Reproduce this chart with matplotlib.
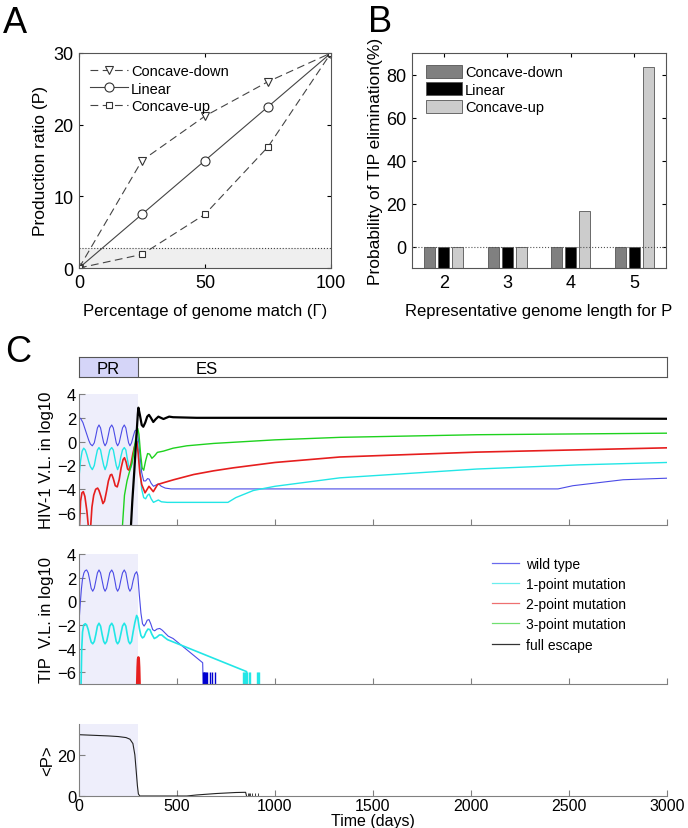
import numpy as np
import matplotlib
matplotlib.use('Agg')
import matplotlib.pyplot as plt

plt.rcParams['font.family'] = ['Liberation Sans', 'DejaVu Sans']
plt.rcParams['axes.linewidth'] = 0.8

# ---- panel A data ----
gamma = [0, 25, 50, 75, 100]
p_down = [0, 15, 21.2, 26, 30]
p_lin = [0, 7.5, 15, 22.5, 30]
p_up = [0, 1.9, 7.5, 16.9, 30]
p_threshold = 2.75

# ---- panel B data ----
genome_len = [2, 3, 4, 5]
elim_down = [0, 0, 0, 0]
elim_lin = [0, 0, 0, 0]
elim_up = [0, 0, 16.7, 83.3]

# ---- panel C data (days, log10 values) ----
pr_end = 300
t_max = 3000

hiv_wt_t = [0, 10, 20, 30, 40, 50, 58, 68, 78, 86, 94, 102, 110, 118, 126, 133, 141, 149, 157, 167,
            175, 183, 190, 197, 205, 213, 222, 231, 239, 246, 253, 260, 268, 276, 285, 294, 300, 310,
            320, 330, 340, 350, 358, 368, 380, 392, 405, 420, 440, 470, 2444, 2520, 2776, 3000]
hiv_wt_v = [2.05, 1.9, 1.6, 1.1, 0.6, 0.1, -0.2, -0.35, -0.1, 0.5, 1.15, 1.4, 1.15, 0.5, -0.1, -0.35,
            -0.1, 0.5, 1.15, 1.4, 1.15, 0.5, -0.1, -0.35, -0.1, 0.5, 1.15, 1.4, 1.15, 0.5, -0.1, -0.35,
            -0.1, 0.4, 0.9, 1.0, 0.7, -1.0, -2.6, -3.3, -3.3, -3.1, -3.15, -3.5, -3.75, -3.65, -3.55,
            -3.75, -3.9, -3.97, -3.97, -3.7, -3.2, -3.07]

hiv_p1_t = [0, 8, 16, 24, 32, 40, 50, 58, 68, 78, 86, 94, 102, 110, 118, 126, 133, 141, 149, 157, 167,
            175, 183, 190, 197, 205, 213, 222, 231, 239, 246, 253, 260, 268, 276, 285, 294, 300, 310,
            320, 330, 340, 350, 358, 368, 380, 392, 405, 420, 450, 760, 800, 890, 1000, 1331, 2030,
            2550, 3000]
hiv_p1_v = [-3.0, -1.6, -0.8, -0.55, -0.7, -1.1, -1.7, -2.1, -2.35, -2.0, -1.3, -0.7, -0.5, -0.7, -1.4,
            -2.0, -2.35, -2.0, -1.3, -0.7, -0.5, -0.7, -1.4, -2.0, -2.35, -2.0, -1.3, -0.7, -0.5, -0.7,
            -1.4, -2.0, -2.35, -2.0, -1.2, -0.3, 0.2, -0.2, -2.0, -4.0, -4.7, -4.8, -4.5, -4.4, -4.8,
            -5.1, -5.0, -4.9, -5.05, -5.1, -5.1, -4.7, -4.1, -3.75, -3.04, -2.3, -1.95, -1.75]

hiv_p2_t = [0, 4, 8, 15, 22, 30, 40, 50, 58, 66, 75, 85, 95, 102, 112, 122, 130, 140, 150, 160, 167,
            175, 185, 195, 205, 215, 225, 232, 240, 248, 255, 265, 275, 285, 295, 302, 310, 320, 337,
            357, 379, 401, 431, 483, 585, 687, 787, 1000, 1331, 2030, 3000]
hiv_p2_v = [-8, -6.5, -5.0, -4.3, -4.2, -4.6, -5.8, -7.5, -7.5, -5.5, -4.5, -4.0, -3.9, -4.1, -4.6,
            -5.2, -5.0, -4.2, -3.3, -2.8, -2.75, -3.1, -3.7, -3.8, -3.2, -2.2, -1.5, -1.35, -1.7,
            -2.3, -2.4, -1.9, -1.0, -0.3, 0.0, -1.0, -2.6, -3.6, -4.3, -3.75, -4.2, -3.6, -3.45,
            -3.2, -2.76, -2.45, -2.2, -1.75, -1.29, -0.88, -0.52]

hiv_p3_t = [220, 232, 245, 258, 270, 280, 290, 300, 306, 314, 322, 330, 340, 350, 360, 372, 385, 400,
            430, 480, 550, 687, 1000, 1331, 2030, 3000]
hiv_p3_v = [-7.5, -4.5, -3.3, -2.5, -1.8, -0.8, 0.3, 1.1, 0.6, -1.0, -2.2, -2.4, -1.6, -1.0, -1.05,
            -1.4, -1.2, -0.9, -0.8, -0.55, -0.35, -0.15, 0.15, 0.36, 0.58, 0.71]

hiv_esc_t = [262, 272, 282, 292, 300, 303, 310, 320, 328, 338, 348, 357, 367, 379, 392, 405, 418, 431,
             445, 460, 480, 600, 1331, 3000]
hiv_esc_v = [-8, -5, -2.5, 0.2, 2.3, 2.85, 2.3, 1.4, 1.25, 1.6, 2.1, 2.25, 2.0, 1.65, 1.9, 2.1, 2.0,
             1.9, 2.0, 2.1, 2.05, 2.0, 2.0, 1.92]

tip_wt_t = [0, 6, 12, 18, 25, 32, 39, 47, 55, 62, 70, 78, 86, 94, 102, 110, 118, 126, 133, 141, 149,
            157, 167, 175, 183, 190, 197, 205, 213, 222, 231, 239, 246, 253, 260, 268, 276, 285, 294,
            300, 308, 316, 324, 332, 340, 348, 357, 366, 376, 386, 398, 412, 425, 440, 455, 480, 631,
            634]
tip_wt_v = [-1.8, -0.3, 1.0, 1.9, 2.4, 2.6, 2.65, 2.4, 1.75, 1.1, 0.85, 1.1, 1.75, 2.4, 2.65, 2.4,
            1.75, 1.1, 0.85, 1.1, 1.75, 2.4, 2.65, 2.4, 1.75, 1.1, 0.85, 1.1, 1.75, 2.4, 2.65, 2.4,
            1.75, 1.1, 0.85, 1.1, 1.75, 2.3, 2.5, 2.2, 0.5, -1.0, -1.9, -2.1, -1.9, -1.6, -1.55,
            -1.9, -2.4, -2.5, -2.35, -2.3, -2.45, -2.7, -2.95, -3.15, -5.2, -7.5]
tip_wt_drops = [634, 637, 640, 644, 648, 653, 667, 680, 694]

tip_p1_t = [10, 14, 18, 24, 32, 39, 47, 55, 62, 70, 78, 86, 94, 102, 110, 118, 126, 133, 141, 149, 157,
            167, 175, 183, 190, 197, 205, 213, 222, 231, 239, 246, 253, 260, 268, 276, 285, 294, 300,
            308, 316, 324, 332, 342, 352, 362, 372, 384, 396, 410, 422, 436, 452, 855, 858]
tip_p1_v = [-7.5, -4.0, -2.6, -2.0, -1.9, -2.0, -2.4, -3.0, -3.45, -3.6, -3.4, -2.8, -2.1, -1.86,
            -2.1, -2.8, -3.4, -3.6, -3.4, -2.8, -2.1, -1.86, -2.1, -2.8, -3.4, -3.6, -3.4, -2.8, -2.1,
            -1.86, -2.1, -2.8, -3.4, -3.6, -3.4, -2.6, -1.8, -1.2, -1.4, -2.3, -2.9, -3.1, -3.0,
            -2.6, -2.35, -2.4, -2.8, -3.15, -3.05, -2.85, -2.85, -3.05, -3.25, -5.95, -7.5]
tip_p1_drops = [838, 843, 848, 852, 858, 866, 872, 908, 914, 920]

tip_p2_t = [296, 299, 301, 303, 305, 307, 310]
tip_p2_v = [-7.5, -5.6, -4.9, -4.75, -4.9, -5.6, -7.5]

mean_p_t = [0, 50, 100, 150, 200, 240, 260, 275, 285, 292, 298, 303, 310, 550, 600, 700, 800, 850, 855]
mean_p_v = [29.8, 29.6, 29.4, 29.2, 28.9, 28.4, 27.6, 25.5, 20, 12, 5, 1, 0, 0, 0.5, 1.2, 1.7, 1.8, 0]
mean_p_drops = [860, 866, 872, 885, 900, 915]

c_labels = ['wild type', '1-point mutation', '2-point mutation', '3-point mutation', 'full escape']
c_colors = ['#4b4be6', '#22e6e6', '#e61e1e', '#1ed21e', '#000000']
legend_colors = ['#6a6aee', '#6aeeee', '#ee7070', '#70e070', '#333333']

fig = plt.figure(figsize=(6.88, 8.29), dpi=100)
W, H = 688.0, 829.0


def box(l, t, r, b):
    return [l / W, 1 - b / H, (r - l) / W, (b - t) / H]


edge = '#555555'

# ---------------- A ----------------
axA = fig.add_axes(box(79, 54, 331, 269))
axA.axhspan(0, p_threshold, color='#efefef', lw=0)
axA.axhline(p_threshold, ls=':', color='#444444', lw=0.8)
mk = dict(color='#444444', lw=0.8, markerfacecolor='white', markeredgecolor='#333333',
          markeredgewidth=0.8)
axA.plot(gamma, p_down, ls=(0, (7, 4)), marker='v', markersize=6, label='Concave-down', **mk)
axA.plot(gamma, p_lin, ls='-', marker='o', markersize=6.5, label='Linear', **mk)
axA.plot(gamma, p_up, ls=(0, (7, 4)), marker='s', markersize=5, label='Concave-up', **mk)
axA.set_xlim(0, 100)
axA.set_ylim(0, 30)
axA.set_xticks([0, 50, 100])
axA.set_yticks([0, 10, 20, 30])
axA.set_xlabel('Percentage of genome match (Γ)', fontsize=12, labelpad=9)
axA.set_ylabel('Production ratio (P)', fontsize=12.5, labelpad=4)
axA.legend(loc='upper left', bbox_to_anchor=(0.01, 0.99), frameon=False, fontsize=10.5,
           handlelength=2.6, handletextpad=0.2, labelspacing=0.25, borderaxespad=0.2)
fig.text(3 / W, 1 - 33 / H, 'A', fontsize=26)

# ---------------- B ----------------
axB = fig.add_axes(box(412, 54, 666, 269))
x = np.array(genome_len)
bw = 0.18
base = -10
axB.bar(x - 0.22, np.array(elim_down) - base, bw, bottom=base, color='#808080', edgecolor='#555555',
        lw=0.6, label='Concave-down')
axB.bar(x, np.array(elim_lin) - base, bw, bottom=base, color='#000000', edgecolor='#555555',
        lw=0.6, label='Linear')
axB.bar(x + 0.22, np.array(elim_up) - base, bw, bottom=base, color='#cccccc', edgecolor='#555555',
        lw=0.6, label='Concave-up')
axB.axhline(0, ls=':', color='#555555', lw=0.8)
axB.set_xlim(1.5, 5.5)
axB.set_ylim(-10, 90)
axB.set_xticks(genome_len)
axB.set_yticks([0, 20, 40, 60, 80])
axB.set_xlabel('Representative genome length for P', fontsize=12, labelpad=9)
axB.set_ylabel('Probability of TIP elimination(%)', fontsize=12.5, labelpad=2)
axB.legend(loc='upper left', bbox_to_anchor=(0.02, 0.985), frameon=False, fontsize=10.5,
           handlelength=2.5, handleheight=1.0, handletextpad=0.2, labelspacing=0.2, borderaxespad=0.2)
fig.text(368 / W, 1 - 32 / H, 'B', fontsize=26)

for ax in (axA, axB):
    ax.tick_params(direction='in', length=3, labelsize=13, pad=4, top=True, right=True,
                   colors='#000000')
    for s in ax.spines.values():
        s.set_color(edge)

# ---------------- C strip ----------------
axS = fig.add_axes(box(79, 358, 667, 378))
axS.axvspan(0, pr_end, color='#d5d5f8', lw=0)
axS.axvline(pr_end, color=edge, lw=0.8)
axS.set_xlim(0, t_max)
axS.set_ylim(0, 1)
axS.set_xticks([])
axS.set_yticks([])
for s in axS.spines.values():
    s.set_color(edge)
axS.text(pr_end / 2, 0.45, 'PR', ha='center', va='center', fontsize=12)
axS.text(650, 0.45, 'ES', ha='center', va='center', fontsize=12)
fig.text(5 / W, 1 - 362 / H, 'C', fontsize=26)

shade = '#eeeefb'
gray = '#808080'


def style_c(ax, ylim, yticks, show_x):
    ax.axvspan(0, pr_end, ymin=0, ymax=1, color=shade, lw=0, zorder=0)
    ax.set_xlim(0, t_max)
    ax.set_ylim(*ylim)
    ax.set_yticks(yticks)
    ax.set_xticks(np.arange(0, t_max + 1, 500))
    if not show_x:
        ax.set_xticklabels([])
    ax.spines['top'].set_visible(False)
    ax.spines['right'].set_visible(False)
    ax.spines['left'].set_color(gray)
    ax.spines['bottom'].set_color(gray)
    ax.tick_params(direction='in', length=4, labelsize=12, pad=2, color=gray)


# ---------------- C1 ----------------
ax1 = fig.add_axes(box(79, 395, 667, 526))
ax1.plot(hiv_wt_t, hiv_wt_v, color=c_colors[0], lw=0.8)
ax1.plot(hiv_p1_t, hiv_p1_v, color=c_colors[1], lw=1.0)
ax1.plot(hiv_p2_t, hiv_p2_v, color=c_colors[2], lw=1.2)
ax1.plot(hiv_p3_t, hiv_p3_v, color=c_colors[3], lw=1.0)
ax1.plot(hiv_esc_t, hiv_esc_v, color=c_colors[4], lw=1.6)
style_c(ax1, (-7, 4), [-6, -4, -2, 0, 2, 4], False)
ax1.set_ylabel('HIV-1 V.L. in log10', fontsize=12, labelpad=2)

# ---------------- C2 ----------------
ax2 = fig.add_axes(box(79, 555, 667, 685))
ax2.plot(tip_wt_t, tip_wt_v, color=c_colors[0], lw=0.8)
ax2.vlines(tip_wt_drops, -7.5, -6.0, color='#0000d0', lw=1.0)
ax2.plot(tip_p1_t, tip_p1_v, color=c_colors[1], lw=1.2)
ax2.vlines(tip_p1_drops, -7.5, -6.0, color=c_colors[1], lw=1.0)
ax2.plot(tip_p2_t, tip_p2_v, color=c_colors[2], lw=1.8)
style_c(ax2, (-7, 4), [-6, -4, -2, 0, 2, 4], False)
ax2.set_ylabel('TIP  V.L. in log10', fontsize=12, labelpad=2)
handles = [plt.Line2D([], [], color=c, lw=0.9) for c in legend_colors]
fig.legend(handles, c_labels, loc='upper left', bbox_to_anchor=(486 / W, 1 - 552 / H), frameon=False,
           fontsize=10, handlelength=2.0, handletextpad=0.45, labelspacing=0.45, borderaxespad=0)

# ---------------- C3 ----------------
ax3 = fig.add_axes(box(79, 725, 667, 797))
ax3.plot(mean_p_t, mean_p_v, color='#222222', lw=0.8)
ax3.vlines(mean_p_drops, 0, 1.5, color='#222222', lw=0.6)
style_c(ax3, (0, 35), [0, 20], True)
ax3.tick_params(axis='x', labelsize=11.5, pad=1.5)
ax3.set_ylabel('<P>', fontsize=12, labelpad=2)
ax3.set_xlabel('Time (days)', fontsize=11.5, labelpad=0)

fig.savefig('out.png', dpi=100)
